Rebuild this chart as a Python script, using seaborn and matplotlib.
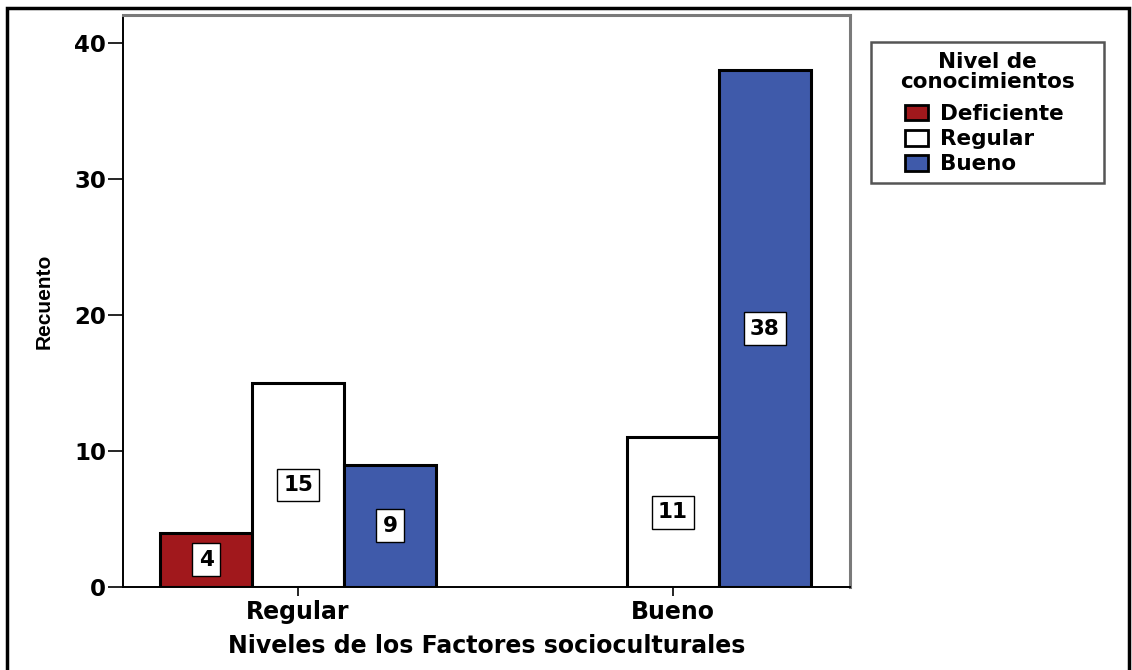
import matplotlib
matplotlib.use("Agg")
import matplotlib.pyplot as plt
from matplotlib.patches import Rectangle
import seaborn as sns
import pandas as pd

# Counts per sociocultural-factor level and knowledge level
factor_levels = ["Regular", "Regular", "Regular", "Bueno", "Bueno"]
knowledge_levels = ["Deficiente", "Regular", "Bueno", "Regular", "Bueno"]
counts = [4, 15, 9, 11, 38]

group_order = ["Regular", "Bueno"]
hue_order = ["Deficiente", "Regular", "Bueno"]
hue_colors = ["#A1181C", "#FFFFFF", "#3F5AAA"]
y_ticks = [0, 10, 20, 30, 40]
legend_title = "Nivel de\nconocimientos"

df = pd.DataFrame({"factor": factor_levels, "nivel": knowledge_levels, "n": counts})

sns.set_theme(style="white")
plt.rcParams["font.family"] = ["DejaVu Sans"]
plt.rcParams.update({"text.color": "black", "axes.labelcolor": "black",
                     "xtick.color": "black", "ytick.color": "black"})

FS = 15.5
W, H = 1132, 670
fig = plt.figure(figsize=(W / 100, H / 100), dpi=100)
ax = fig.add_axes([123 / W, 1 - 587 / H, (850 - 123) / W, (587 - 15) / H])

sns.barplot(data=df, x="factor", y="n", hue="nivel", order=group_order,
            hue_order=hue_order, palette=hue_colors, width=0.736,
            edgecolor="black", linewidth=2.2, saturation=1, ax=ax, legend=True)

# value boxes in the middle of each bar
for container in ax.containers:
    for bar, val in zip(container, container.datavalues):
        if val != val:
            continue
        ax.text(bar.get_x() + bar.get_width() / 2, bar.get_height() / 2, f"{int(val)}",
                ha="center", va="center", fontsize=FS, fontweight="bold", color="black",
                bbox=dict(boxstyle="square,pad=0.3", facecolor="white",
                          edgecolor="black", linewidth=1.0))

ax.set_xlim(-0.467, 1.472)
ax.set_ylim(0, 42.06)
ax.set_yticks(y_ticks)
ax.set_yticklabels([str(t) for t in y_ticks], fontsize=16.5, fontweight="bold")
ax.set_xticks(range(len(group_order)))
ax.set_xticklabels(group_order, fontsize=17, fontweight="bold")
ax.tick_params(axis="y", direction="out", length=11, width=1.2, pad=1, left=True)
ax.tick_params(axis="x", direction="out", length=6.5, width=1.2, pad=3, bottom=True)

ax.set_xlabel("Niveles de los Factores socioculturales", fontsize=17, fontweight="bold",
              labelpad=7)
ax.set_ylabel("Recuento", fontsize=15, fontweight="bold",
              family=["Liberation Sans Narrow", "Liberation Sans"], labelpad=15)

for side in ["left", "bottom"]:
    ax.spines[side].set_color("black")
    ax.spines[side].set_linewidth(1.4)
for side in ["top", "right"]:
    ax.spines[side].set_color("#7a7a7a")
    ax.spines[side].set_linewidth(2.2)

# legend: framed box, centred title, entries below it
box_l, box_t, box_r, box_b = 871, 42, 1104, 183
fig.patches.append(Rectangle((box_l / W, 1 - box_b / H), (box_r - box_l) / W,
                             (box_b - box_t) / H, transform=fig.transFigure,
                             fill=False, edgecolor="#555555", linewidth=1.8))
fig.text((box_l + box_r) / 2 / W, 1 - 72 / H, legend_title, ha="center", va="center",
         fontsize=FS, fontweight="bold", linespacing=0.95)
leg = ax.legend(loc="upper left", bbox_to_anchor=(905 / W, 1 - 104 / H),
                bbox_transform=fig.transFigure, frameon=False, borderaxespad=0,
                borderpad=0, handlelength=1.07, handleheight=0.75,
                handletextpad=0.55, labelspacing=0.24,
                prop={"size": FS, "weight": "bold"})
for h in leg.legend_handles:
    h.set_edgecolor("black")
    h.set_linewidth(2)

# outer frame around the whole figure
fig.patches.append(Rectangle((7 / W, -0.05), (1129 - 7) / W, 1.05 - 8 / H,
                             transform=fig.transFigure, fill=False,
                             edgecolor="black", linewidth=2.5))

fig.savefig("out.png", dpi=100)
